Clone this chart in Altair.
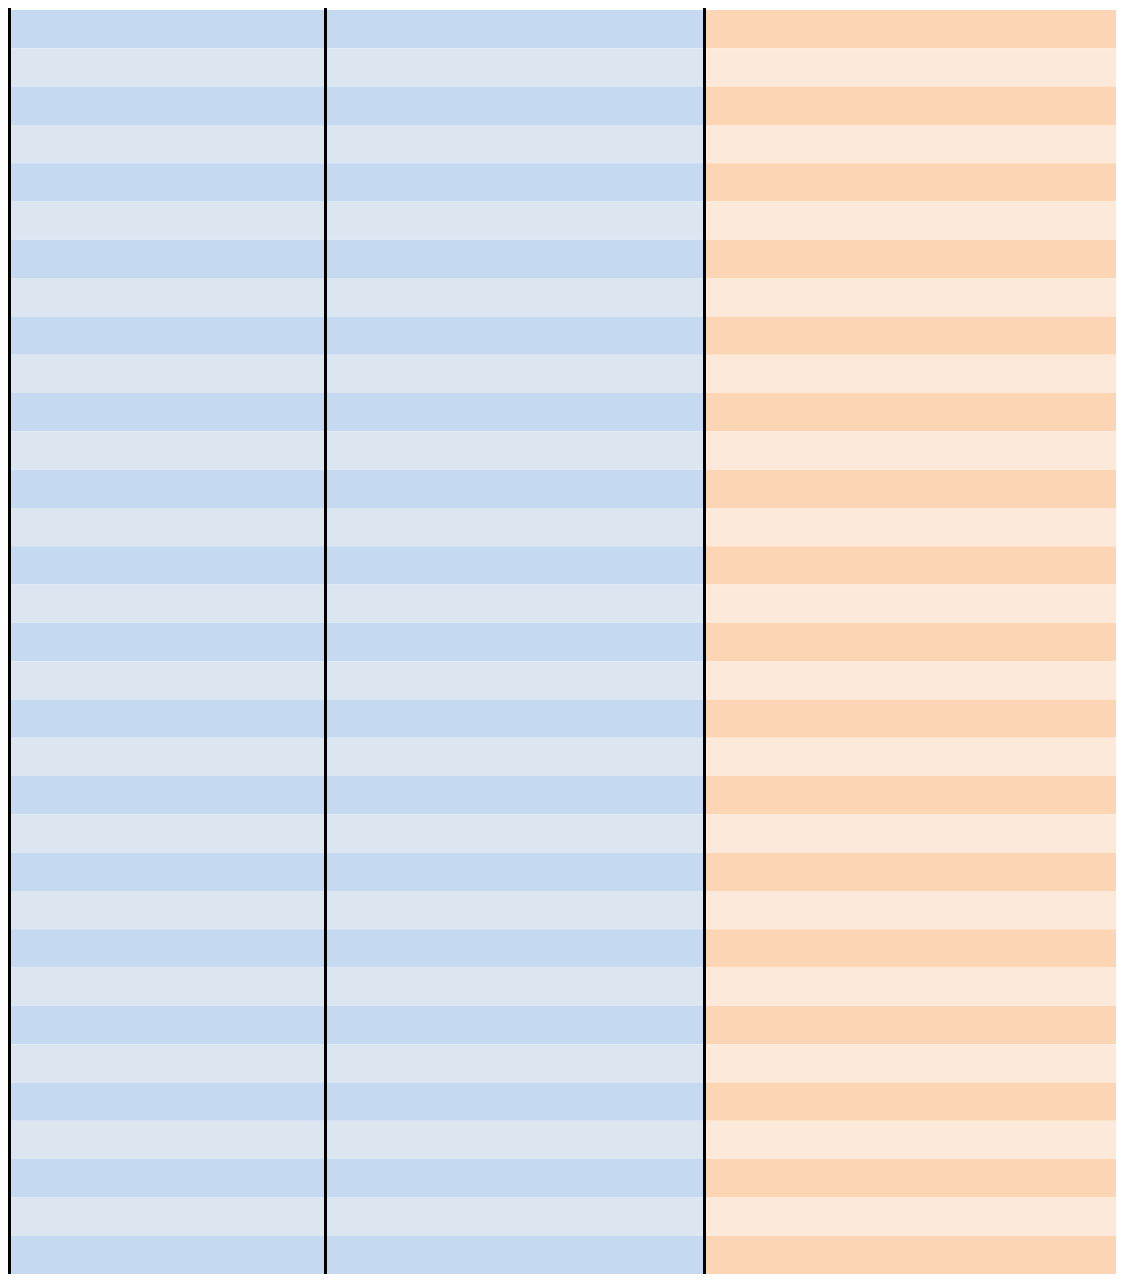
import altair as alt
import pandas as pd

# ---- data ----
row_ids = list(range(1, 34))                 # 33 striped rows
column_names = ["Column 1", "Column 2", "Column 3"]
column_groups = ["blue", "blue", "orange"]
column_edges = [0, 317.5, 696.5, 1108]       # column boundaries (x units)
thick_edges = [0]
thin_edges = [317.5, 696.5]

color_domain = ["blue-dark", "blue-light", "orange-dark", "orange-light"]
color_range = ["#C5D9F1", "#DCE6F1", "#FCD5B4", "#FDE9D9"]

cells = []
for r in row_ids:
    shade = "dark" if r % 2 == 1 else "light"
    for i, c in enumerate(column_names):
        cells.append({
            "row": r,
            "col": c,
            "x0": column_edges[i],
            "x1": column_edges[i + 1],
            "key": f"{column_groups[i]}-{shade}",
        })
cells_df = pd.DataFrame(cells)

W = 1108
H = 1264

xscale = alt.Scale(domain=[0, W], range=[0, W], nice=False, zero=False)

bands = alt.Chart(cells_df).mark_rect(strokeWidth=0).encode(
    x=alt.X("x0:Q", scale=xscale, axis=None),
    x2="x1:Q",
    y=alt.Y("row:O", axis=None, sort=row_ids,
            scale=alt.Scale(paddingInner=0, paddingOuter=0)),
    color=alt.Color("key:N", legend=None,
                    scale=alt.Scale(domain=color_domain, range=color_range)),
)

thick = alt.Chart(pd.DataFrame({"edge": thick_edges})).mark_rule(
    color="black", strokeWidth=6
).encode(
    x=alt.X("edge:Q", scale=xscale, axis=None),
    y=alt.value(-2),
    y2=alt.value(H),
)

thin = alt.Chart(pd.DataFrame({"edge": thin_edges})).mark_rule(
    color="black", strokeWidth=3
).encode(
    x=alt.X("edge:Q", scale=xscale, axis=None),
    y=alt.value(-2),
    y2=alt.value(H),
)

chart = alt.layer(bands, thick, thin).properties(
    width=W,
    height=H,
    padding={"left": 0, "top": 2, "right": 0, "bottom": 0},
    autosize=alt.AutoSizeParams(type="none"),
).configure_view(stroke=None)

chart.save("out.html", embed_options={"renderer": "svg", "actions": False})
